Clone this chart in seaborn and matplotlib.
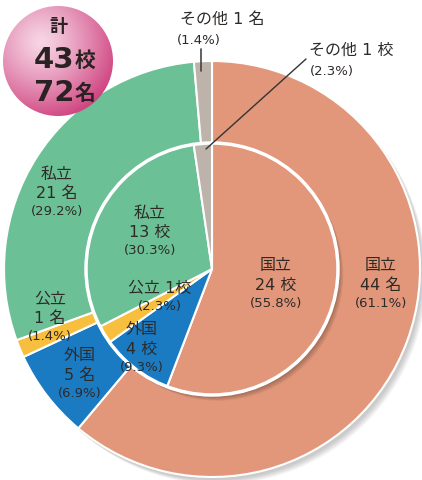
import numpy as np
import seaborn as sns
import matplotlib.pyplot as plt
from matplotlib.patches import Circle

# data
categories = ['国立', '外国', '公立', '私立', 'その他']
schools = [24, 4, 1, 13, 1]
students = [44, 5, 1, 21, 1]
school_pct = [55.8, 9.3, 2.3, 30.3, 2.3]
student_pct = [61.1, 6.9, 1.4, 29.2, 1.4]
total_schools = 43
total_students = 72

colors = ['#E2977A', '#1A7BC3', '#F8BE3D', '#6CC096', '#BDB3AA']

sns.set_theme(style='white')
plt.rcParams['font.family'] = ['DejaVu Sans', 'Noto Sans CJK JP']

W, H = 422, 481
cx, cy, R = 212, 270, 208


def px(x, y):
    """pixel position (from top-left) -> data coords"""
    return (x - cx) / R, (cy - y) / R


fig = plt.figure(figsize=(W / 100, H / 100), dpi=100)
ax = fig.add_axes([0, 0, 1, 1])
ax.set_xlim(-cx / R, (W - cx) / R)
ax.set_ylim((cy - H) / R, cy / R)
ax.set_aspect('equal')
ax.axis('off')

# soft shadows
for k in range(6):
    ax.add_patch(Circle((0.012 + k * 0.004, -0.015 - k * 0.004), 1.0, color='black',
                        alpha=0.035, lw=0, zorder=0))

r_in = 126 / R
ax.pie(students, radius=1.0, colors=colors, startangle=90, counterclock=False,
       wedgeprops=dict(width=1 - r_in, edgecolor='white', linewidth=1.5))

for k in range(5):
    ax.add_patch(Circle((0.01 + k * 0.004, -0.012 - k * 0.004), r_in, color='black',
                        alpha=0.05, lw=0, zorder=1.5))

wedges, _ = ax.pie(schools, radius=r_in, colors=colors, startangle=90, counterclock=False,
                   wedgeprops=dict(edgecolor='white', linewidth=1.5))
for w in wedges:
    w.set_zorder(2)
ax.add_patch(Circle((0, 0), r_in, fill=False, ec='white', lw=2.5, zorder=2.5))

txt = '#2e2a28'
big = 11.5
small = 9.5


def label(x, y, name, count, unit, pct, gap=19):
    X, Y = px(x, y)
    d = gap / R
    ax.text(X, Y + d, name, ha='center', va='center', fontsize=big, color=txt, zorder=5)
    ax.text(X, Y, f'{count} {unit}', ha='center', va='center', fontsize=big, color=txt, zorder=5)
    ax.text(X, Y - d * 0.95, f'({pct}%)', ha='center', va='center', fontsize=small, color=txt, zorder=5)


# outer ring labels (students)
label(381, 285, categories[0], students[0], '名', student_pct[0])
label(80, 375, categories[1], students[1], '名', student_pct[1])
label(50, 318, categories[2], students[2], '名', student_pct[2])
label(57, 193, categories[3], students[3], '名', student_pct[3])

# inner pie labels (schools)
label(276, 285, categories[0], schools[0], '校', school_pct[0])
label(142, 349, categories[1], schools[1], '校', school_pct[1])
label(150, 232, categories[3], schools[3], '校', school_pct[3])
X, Y = px(160, 288)
ax.text(X, Y, f'{categories[2]} {schools[2]}校', ha='center', va='center', fontsize=big, color=txt, zorder=5)
X, Y = px(160, 307)
ax.text(X, Y, f'({school_pct[2]}%)', ha='center', va='center', fontsize=small, color=txt, zorder=5)

# その他 labels with leader lines
X, Y = px(222, 19)
ax.text(X, Y, f'{categories[4]} {students[4]} 名', ha='center', va='center', fontsize=big, color=txt)
X, Y = px(199, 41)
ax.text(X, Y, f'({student_pct[4]}%)', ha='center', va='center', fontsize=small, color=txt)
ax.plot(*zip(px(201, 50), px(201, 72)), color='#444', lw=1.2, zorder=6)

X, Y = px(309, 50)
ax.text(X, Y, f'{categories[4]} {schools[4]} 校', ha='left', va='center', fontsize=big, color=txt)
X, Y = px(310, 72)
ax.text(X, Y, f'({school_pct[4]}%)', ha='left', va='center', fontsize=small, color=txt)
ax.plot(*zip(px(306, 60), px(206, 150)), color='#333', lw=1.0, zorder=6)

# total badge with radial gradient
bx, by = px(58, 62)
br = 55 / R
n = 200
gx, gy = np.meshgrid(np.linspace(-1, 1, n), np.linspace(1, -1, n))
dist = np.clip(np.hypot(gx + 0.3, gy - 0.35) / 1.55, 0, 1)
c0 = np.array([0.97, 0.84, 0.90])
c1 = np.array([0.80, 0.22, 0.47])
img = c0 + (c1 - c0) * dist[..., None] ** 1.2
im = ax.imshow(img, extent=[bx - br, bx + br, by - br, by + br], zorder=7, interpolation='bilinear')
clip = Circle((bx, by), br, transform=ax.transData)
im.set_clip_path(clip)
ax.set_xlim(-cx / R, (W - cx) / R)
ax.set_ylim((cy - H) / R, cy / R)

X, Y = px(58, 27)
ax.text(X, Y, '計', ha='center', va='center', fontsize=13, fontweight='bold', color='#2a2222', zorder=8)
for yy, num, unit in [(60, total_schools, '校'), (93, total_students, '名')]:
    X, Y = px(74, yy)
    ax.text(X, Y, str(num), ha='right', va='center', fontsize=21, fontweight='bold', color='#2a2222', zorder=8)
    X, Y = px(75, yy + 1)
    ax.text(X, Y, unit, ha='left', va='center', fontsize=15, fontweight='bold', color='#2a2222', zorder=8)

plt.savefig('out.png', dpi=100)
